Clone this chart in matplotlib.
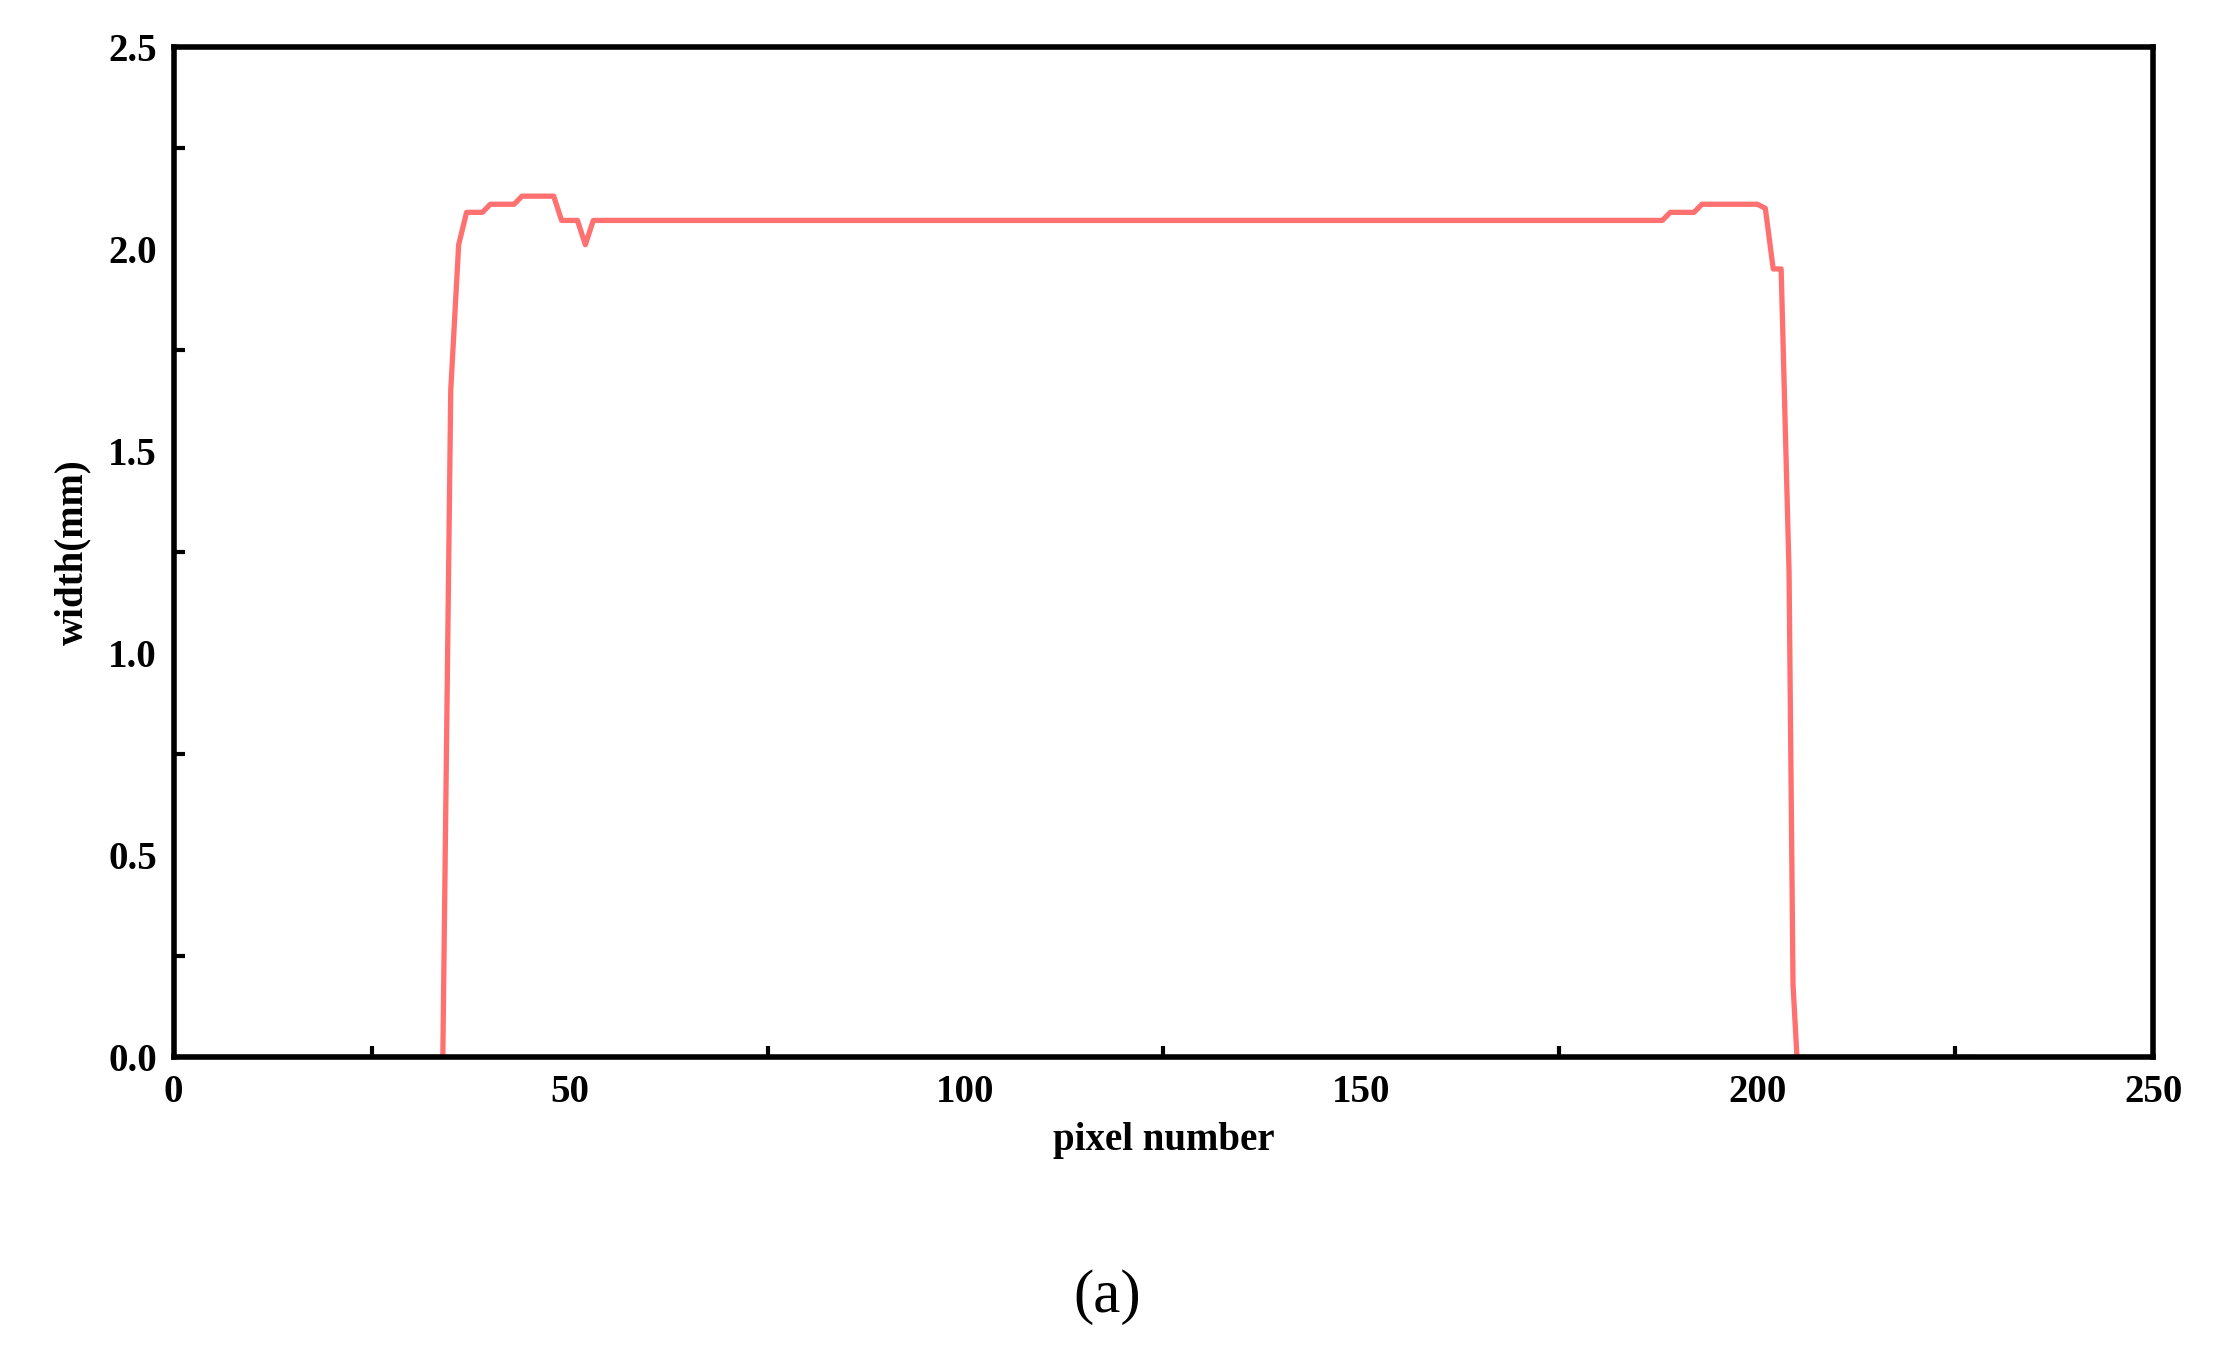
import matplotlib.pyplot as plt
from matplotlib.ticker import MultipleLocator

# breakpoints of the width profile (pixel number, width in mm)
pixel = [0, 34, 35, 36, 37, 39, 40, 43, 44, 48, 49, 50, 51, 52, 53, 188, 189, 192, 193, 200, 201, 202, 203, 204, 204.5, 205, 227]
width = [0.0, 0.0, 1.65, 2.01, 2.09, 2.09, 2.11, 2.11, 2.13, 2.13, 2.07, 2.07, 2.07, 2.01, 2.07, 2.07, 2.09, 2.09, 2.11, 2.11, 2.10, 1.95, 1.95, 1.20, 0.18, 0.0, 0.0]

plt.rcParams['font.family'] = ['Liberation Serif', 'DejaVu Serif']

fig = plt.figure(figsize=(22.14, 13.58), dpi=100)
ax = fig.add_axes([0.0784, 0.2214, 0.8942, 0.7443])
ax.plot(pixel, width, color='#FF7070', lw=3.8, solid_joinstyle='round')

ax.set_xlim(0, 250)
ax.set_ylim(0, 2.5)
ax.xaxis.set_major_locator(MultipleLocator(50))
ax.xaxis.set_minor_locator(MultipleLocator(25))
ax.yaxis.set_major_locator(MultipleLocator(0.5))
ax.yaxis.set_minor_locator(MultipleLocator(0.25))
ax.tick_params(which='major', length=0, labelsize=28, pad=12)
ax.tick_params(which='minor', direction='in', length=8, width=3)
for lab in ax.get_xticklabels() + ax.get_yticklabels():
    lab.set_fontweight('bold')
ax.yaxis.set_major_formatter(plt.FormatStrFormatter('%.1f'))
for s in ax.spines.values():
    s.set_linewidth(4)

ax.set_xlabel('pixel number', fontsize=28, fontweight='bold', labelpad=8)
ax.set_ylabel('width(mm)', fontsize=28, fontweight='bold', labelpad=12)
fig.text(0.5, 0.045, '(a)', ha='center', va='center', fontsize=44)

fig.savefig('out.png', dpi=100)
